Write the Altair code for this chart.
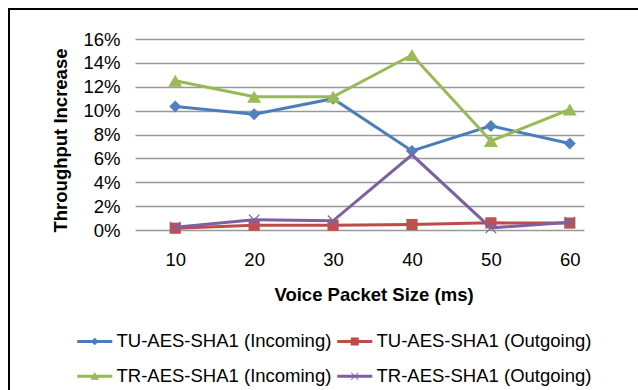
import altair as alt
import pandas as pd

# Throughput increase (%) per voice packet size (ms)
sizes = [10, 20, 30, 40, 50, 60]
series_names = [
    "TU-AES-SHA1 (Incoming)",
    "TU-AES-SHA1 (Outgoing)",
    "TR-AES-SHA1 (Incoming)",
    "TR-AES-SHA1 (Outgoing)",
]
tu_in = [10.35, 9.70, 11.00, 6.62, 8.72, 7.24]
tu_out = [0.15, 0.40, 0.40, 0.46, 0.60, 0.58]
tr_in = [12.50, 11.16, 11.16, 14.66, 7.46, 10.10]
tr_out = [0.24, 0.85, 0.77, 6.30, 0.18, 0.65]
y_ticks = [0, 2, 4, 6, 8, 10, 12, 14, 16]

line_colors = ["#4A7EBB", "#BE4B48", "#98B954", "#7D60A0"]
marker_colors = ["#4F81BD", "#C0504D", "#9BBB59", "#8064A2"]

# legend glyphs: a short line segment with the series marker on it
_bar = "M-1,-0.3L6,-0.3L6,0.3L-1,0.3Z"
legend_paths = [
    _bar + "M2.5,-0.75L3.3,0L2.5,0.75L1.7,0Z",
    _bar + "M1.7,-0.8L3.3,-0.8L3.3,0.8L1.7,0.8Z",
    _bar + "M2.5,-0.85L3.35,0.7L1.65,0.7Z",
    _bar + "M1.87,-0.77L3.27,0.63L3.13,0.77L1.73,-0.63Z"
    + "M1.87,0.77L1.73,0.63L3.13,-0.77L3.27,-0.63Z",
]

rows = []
for name, vals in zip(series_names, [tu_in, tu_out, tr_in, tr_out]):
    for s, v in zip(sizes, vals):
        rows.append({"size": s, "increase": v, "series": name})
df = pd.DataFrame(rows)

FONT = "Liberation Sans, Arial, sans-serif"
FS = 18.5

x_enc = alt.X(
    "size:Q",
    scale=alt.Scale(domain=[4.9, 61.8], nice=False, zero=False),
    axis=alt.Axis(
        values=sizes,
        title="Voice Packet Size (ms)",
        grid=False,
        domain=False,
        ticks=False,
        tickSize=0,
        labelFlush=False,
        labelOverlap=False,
        labelPadding=20.5,
        labelBaseline="top",
        labelFont=FONT,
        labelFontSize=FS,
        labelColor="#000000",
        titleFont=FONT,
        titleFontSize=FS,
        titleFontWeight="bold",
        titleColor="#000000",
        titleX=238.5,
        titleY=70,
        titleAlign="center",
        titleBaseline="alphabetic",
    ),
)

y_enc = alt.Y(
    "increase:Q",
    scale=alt.Scale(domain=[0, 16], nice=False, zero=True),
    axis=alt.Axis(
        values=y_ticks,
        labelExpr="datum.value + '%'",
        title="Throughput Increase",
        grid=True,
        gridColor="#999999",
        gridWidth=1.5,
        domain=False,
        ticks=False,
        tickSize=0,
        labelPadding=15,
        labelFont=FONT,
        labelFontSize=FS,
        labelColor="#000000",
        titleFont=FONT,
        titleFontSize=FS,
        titleFontWeight="bold",
        titleColor="#000000",
        titleAngle=270,
        titleX=-69,
        titleY=101,
        titleAlign="center",
        titleBaseline="alphabetic",
    ),
)

base = alt.Chart(df)

marker_specs = [
    dict(shape="diamond", filled=True, size=145),
    dict(shape="square", filled=True, size=125),
    dict(shape="triangle-up", filled=True, size=195),
    dict(shape="M-1,-1L1,1M-1,1L1,-1", filled=False, size=110, strokeWidth=1.3),
]

layers = []
for name, lc, mc, spec in zip(series_names, line_colors, marker_colors, marker_specs):
    sub = base.transform_filter(alt.datum.series == name)
    layers.append(
        sub.mark_line(color=lc, strokeWidth=3).encode(x=x_enc, y=y_enc)
    )
    layers.append(
        sub.mark_point(color=mc, opacity=1, **spec).encode(x=x_enc, y=y_enc)
    )

# invisible points that carry the legend
legend_layer = base.mark_point(filled=True, opacity=0, size=100).encode(
    x=x_enc,
    y=y_enc,
    color=alt.Color(
        "series:N",
        scale=alt.Scale(domain=series_names, range=line_colors),
        legend=alt.Legend(title=None),
    ),
    shape=alt.Shape(
        "series:N",
        scale=alt.Scale(domain=series_names, range=legend_paths),
        legend=alt.Legend(title=None),
    ),
)

# outer chart frame
frame = (
    alt.Chart(pd.DataFrame({"k": [0]}))
    .mark_rect(fill="transparent", stroke="#000000", strokeWidth=2)
    .encode(
        x=alt.value(-126),
        y=alt.value(-30),
        x2=alt.value(620),
        y2=alt.value(420),
    )
)

chart = (
    alt.layer(frame, *layers, legend_layer)
    .properties(
        width=449,
        height=191,
        padding={"left": 135, "top": 39, "right": 54, "bottom": 160},
        autosize=alt.AutoSizeParams(type="none"),
        background="#FFFFFF",
    )
    .configure_view(strokeWidth=0)
    .configure_legend(
        orient="none",
        direction="horizontal",
        legendX=-62,
        legendY=293,
        columns=2,
        padding=0,
        labelFont=FONT,
        labelFontSize=FS,
        labelColor="#000000",
        labelOffset=25,
        labelLimit=400,
        symbolSize=100,
        symbolOpacity=1,
        symbolStrokeWidth=0,
        rowPadding=16,
        columnPadding=1,
    )
)

chart.save("out.html", embed_options={"renderer": "svg", "actions": False})
